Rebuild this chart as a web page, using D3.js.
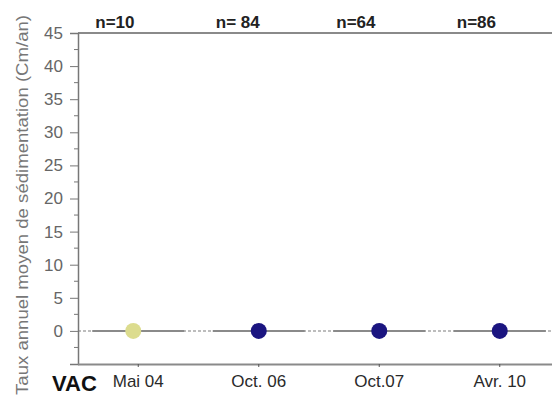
<!DOCTYPE html>
<html><head><meta charset="utf-8">
<script src="https://cdn.jsdelivr.net/npm/d3@7"></script>
<style>
html,body{margin:0;padding:0;background:#fff;}
svg{display:block;font-family:"Liberation Sans",Arial,sans-serif;}
</style></head>
<body>
<svg id="c" width="552" height="398"></svg>
<script>
const categories = ["Mai 04", "Oct. 06", "Oct.07", "Avr. 10"];
const values = [0, 0, 0, 0];
const counts = ["n=10", "n= 84", "n=64", "n=86"];
const pointColors = ["#dcdc8e", "#1b1580"];
const site = "VAC";
const yTicks = [0, 5, 10, 15, 20, 25, 30, 35, 40, 45];
const yTitle = "Taux annuel moyen de sédimentation (Cm/an)";

const svg = d3.select("#c");
const mLeft = 78, mRight = 560, mTop = 33, mBottom = 364;

const x = d3.scaleBand().domain(categories).range([mLeft, mRight]).paddingInner(0).paddingOuter(0);
const cx = c => x(c) + x.bandwidth() / 2;
const y = d3.scaleLinear().domain([-5, 45]).range([mBottom, mTop]);

// zero reference line: faint dotted background, solid segments around each point
svg.append("line").attr("x1", mLeft).attr("x2", 552).attr("y1", y(0)).attr("y2", y(0))
  .attr("stroke", "#bdbdbd").attr("stroke-width", 2).attr("stroke-dasharray", "3,2");
svg.selectAll("line.seg").data(categories).join("line").attr("class", "seg")
  .attr("x1", d => cx(d) - 46).attr("x2", d => cx(d) + 46)
  .attr("y1", y(0)).attr("y2", y(0))
  .attr("stroke", "#8a8a8a").attr("stroke-width", 2);

// top border line
svg.append("line").attr("x1", mLeft).attr("x2", 552).attr("y1", mTop).attr("y2", mTop)
  .attr("stroke", "#8a8a8a").attr("stroke-width", 2);

// y axis
const yAxis = d3.axisLeft(y).tickValues(yTicks).tickSize(8).tickPadding(7);
const gy = svg.append("g").attr("transform", `translate(${mLeft},0)`).call(yAxis);
gy.select(".domain").attr("stroke", "#777").attr("stroke-width", 1.5);
gy.selectAll(".tick line").attr("stroke", "#777");
gy.selectAll(".tick text").attr("fill", "#666").attr("font-size", 17)
  .attr("font-family", "'Liberation Sans',Arial,sans-serif");
// minor ticks
const minor = d3.range(-2.5, 45, 5);
svg.append("g").selectAll("line").data(minor).join("line")
  .attr("x1", mLeft - 4).attr("x2", mLeft).attr("y1", d => y(d)).attr("y2", d => y(d))
  .attr("stroke", "#777");

// x axis
const xAxis = d3.axisBottom(x).tickSize(3).tickFormat(d => d).tickPadding(10);
const gx = svg.append("g").attr("transform", `translate(0,${mBottom})`).call(xAxis);
gx.select(".domain").attr("d", `M${mLeft},0.5H552`).attr("stroke", "#8a8a8a").attr("stroke-width", 2);
gx.selectAll(".tick line").attr("stroke", "#555");
gx.selectAll(".tick text").attr("fill", "#2a2a2a").attr("font-size", 17)
  .attr("font-family", "'Liberation Sans',Arial,sans-serif").attr("dy", "0.6em");

// site label
svg.append("text").attr("x", 52).attr("y", 391).attr("font-size", 22).attr("font-weight", "bold")
  .attr("fill", "#111").text(site);

// n labels
svg.selectAll("text.n").data(categories).join("text").attr("class", "n")
  .attr("x", d => cx(d) - 43).attr("y", 28)
  .attr("font-size", 17).attr("font-weight", "bold").attr("fill", "#222")
  .text((d, i) => counts[i]);

// points
svg.selectAll("circle.pt").data(categories).join("circle").attr("class", "pt")
  .attr("cx", (d, i) => cx(d) - (i === 0 ? 5 : 0))
  .attr("cy", (d, i) => y(values[i]))
  .attr("r", 8)
  .attr("fill", (d, i) => i === 0 ? pointColors[0] : pointColors[1]);

// y title
svg.append("text").attr("transform", `translate(28,205) rotate(-90)`)
  .attr("text-anchor", "middle").attr("font-size", 17).attr("fill", "#777")
  .attr("textLength", 380).attr("lengthAdjust", "spacingAndGlyphs")
  .text(yTitle);
</script>
</body></html>
